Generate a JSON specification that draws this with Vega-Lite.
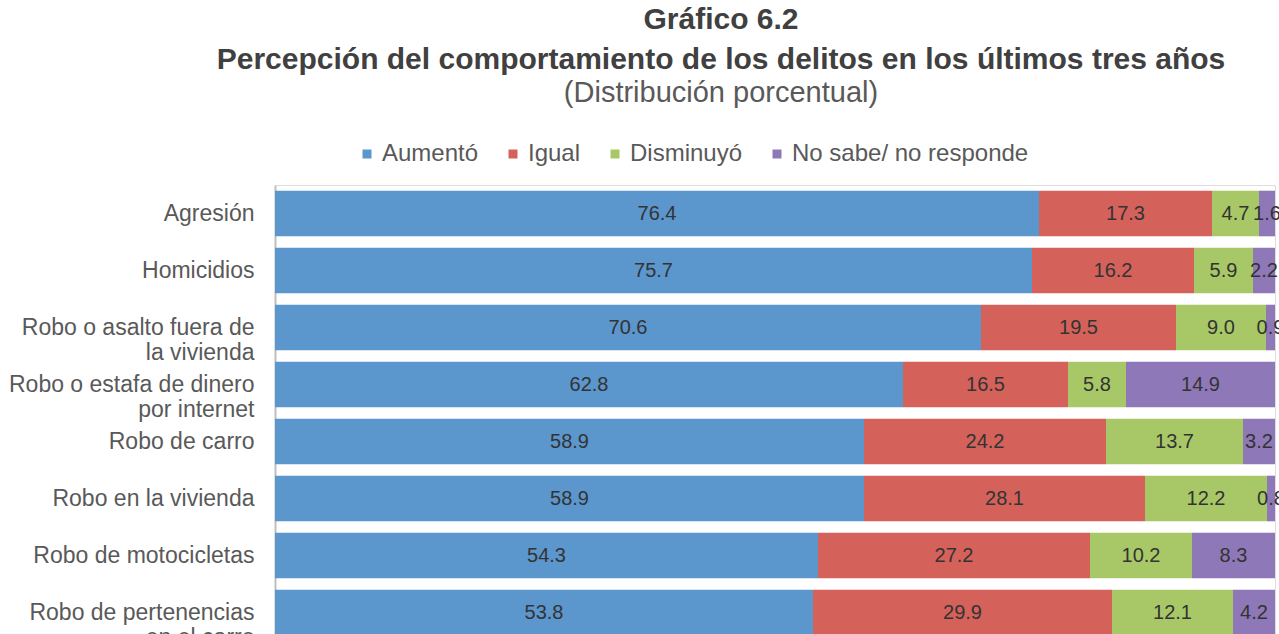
{
  "$schema": "https://vega.github.io/schema/vega-lite/v6.json",
  "autosize": {"type": "none"},
  "width": 1000,
  "height": 456,
  "padding": {"left": 275, "top": 185, "right": 4, "bottom": 0},
  "background": "white",
  "title": {
    "text": ["Gráfico 6.2", "Percepción del comportamiento de los delitos en los últimos tres años"],
    "subtitle": "(Distribución porcentual)",
    "anchor": "middle",
    "frame": "group",
    "dx": -54,
    "offset": 34,
    "font": "Liberation Sans",
    "fontSize": 30,
    "fontWeight": "bold",
    "color": "#404040",
    "lineHeight": 40,
    "subtitleFont": "Liberation Sans",
    "subtitleFontSize": 29,
    "subtitleColor": "#595959",
    "subtitlePadding": 4
  },
  "data": {
    "values": [
      {"delito": "Agresión", "respuesta": "Aumentó", "orden": 1, "pct": 76.4},
      {"delito": "Agresión", "respuesta": "Igual", "orden": 2, "pct": 17.3},
      {"delito": "Agresión", "respuesta": "Disminuyó", "orden": 3, "pct": 4.7},
      {"delito": "Agresión", "respuesta": "No sabe/ no responde", "orden": 4, "pct": 1.6},
      {"delito": "Homicidios", "respuesta": "Aumentó", "orden": 1, "pct": 75.7},
      {"delito": "Homicidios", "respuesta": "Igual", "orden": 2, "pct": 16.2},
      {"delito": "Homicidios", "respuesta": "Disminuyó", "orden": 3, "pct": 5.9},
      {"delito": "Homicidios", "respuesta": "No sabe/ no responde", "orden": 4, "pct": 2.2},
      {"delito": "Robo o asalto fuera de la vivienda", "respuesta": "Aumentó", "orden": 1, "pct": 70.6},
      {"delito": "Robo o asalto fuera de la vivienda", "respuesta": "Igual", "orden": 2, "pct": 19.5},
      {"delito": "Robo o asalto fuera de la vivienda", "respuesta": "Disminuyó", "orden": 3, "pct": 9.0},
      {"delito": "Robo o asalto fuera de la vivienda", "respuesta": "No sabe/ no responde", "orden": 4, "pct": 0.9},
      {"delito": "Robo o estafa de dinero por internet", "respuesta": "Aumentó", "orden": 1, "pct": 62.8},
      {"delito": "Robo o estafa de dinero por internet", "respuesta": "Igual", "orden": 2, "pct": 16.5},
      {"delito": "Robo o estafa de dinero por internet", "respuesta": "Disminuyó", "orden": 3, "pct": 5.8},
      {"delito": "Robo o estafa de dinero por internet", "respuesta": "No sabe/ no responde", "orden": 4, "pct": 14.9},
      {"delito": "Robo de carro", "respuesta": "Aumentó", "orden": 1, "pct": 58.9},
      {"delito": "Robo de carro", "respuesta": "Igual", "orden": 2, "pct": 24.2},
      {"delito": "Robo de carro", "respuesta": "Disminuyó", "orden": 3, "pct": 13.7},
      {"delito": "Robo de carro", "respuesta": "No sabe/ no responde", "orden": 4, "pct": 3.2},
      {"delito": "Robo en la vivienda", "respuesta": "Aumentó", "orden": 1, "pct": 58.9},
      {"delito": "Robo en la vivienda", "respuesta": "Igual", "orden": 2, "pct": 28.1},
      {"delito": "Robo en la vivienda", "respuesta": "Disminuyó", "orden": 3, "pct": 12.2},
      {"delito": "Robo en la vivienda", "respuesta": "No sabe/ no responde", "orden": 4, "pct": 0.8},
      {"delito": "Robo de motocicletas", "respuesta": "Aumentó", "orden": 1, "pct": 54.3},
      {"delito": "Robo de motocicletas", "respuesta": "Igual", "orden": 2, "pct": 27.2},
      {"delito": "Robo de motocicletas", "respuesta": "Disminuyó", "orden": 3, "pct": 10.2},
      {"delito": "Robo de motocicletas", "respuesta": "No sabe/ no responde", "orden": 4, "pct": 8.3},
      {"delito": "Robo de pertenencias en el carro", "respuesta": "Aumentó", "orden": 1, "pct": 53.8},
      {"delito": "Robo de pertenencias en el carro", "respuesta": "Igual", "orden": 2, "pct": 29.9},
      {"delito": "Robo de pertenencias en el carro", "respuesta": "Disminuyó", "orden": 3, "pct": 12.1},
      {"delito": "Robo de pertenencias en el carro", "respuesta": "No sabe/ no responde", "orden": 4, "pct": 4.2}
    ]
  },
  "encoding": {
    "y": {
      "field": "delito",
      "type": "nominal",
      "sort": null,
      "scale": {"paddingInner": 0.2, "paddingOuter": 0.1},
      "axis": {
        "title": null,
        "domainColor": "#BFBFBF",
        "domainWidth": 2,
        "ticks": false,
        "labelPadding": 21,
        "labelFont": "Liberation Sans",
        "labelFontSize": 23,
        "labelColor": "#595959",
        "labelLineHeight": 25,
        "labelLimit": 300,
        "labelExpr": "datum.value == 'Robo o asalto fuera de la vivienda' ? ['Robo o asalto fuera de', 'la vivienda'] : datum.value == 'Robo o estafa de dinero por internet' ? ['Robo o estafa de dinero', 'por internet'] : datum.value == 'Robo de pertenencias en el carro' ? ['Robo de pertenencias', 'en el carro'] : datum.value"
      }
    },
    "x": {
      "field": "pct",
      "type": "quantitative",
      "stack": "zero",
      "scale": {"domain": [0, 100], "nice": false},
      "axis": null
    },
    "order": {"field": "orden", "type": "quantitative"}
  },
  "layer": [
    {
      "mark": {"type": "bar", "stroke": null},
      "encoding": {
        "color": {
          "field": "respuesta",
          "type": "nominal",
          "sort": null,
          "scale": {
            "domain": ["Aumentó", "Igual", "Disminuyó", "No sabe/ no responde"],
            "range": ["#5B96CD", "#D4625B", "#A8C868", "#8F78B8"]
          },
          "legend": {
            "title": null,
            "orient": "none",
            "direction": "horizontal",
            "legendX": 80,
            "legendY": -43,
            "symbolType": "square",
            "symbolSize": 81,
            "symbolStrokeWidth": 0,
            "labelFont": "Liberation Sans",
            "labelFontSize": 24,
            "labelColor": "#595959",
            "labelOffset": 3,
            "labelLimit": 400,
            "columnPadding": 22
          }
        }
      }
    },
    {
      "mark": {"type": "text", "font": "Liberation Sans", "fontSize": 20, "color": "#333333"},
      "encoding": {
        "x": {"field": "pct", "type": "quantitative", "stack": "zero", "bandPosition": 0.5},
        "text": {"field": "pct", "type": "quantitative", "format": ".1f"}
      }
    }
  ]
}
